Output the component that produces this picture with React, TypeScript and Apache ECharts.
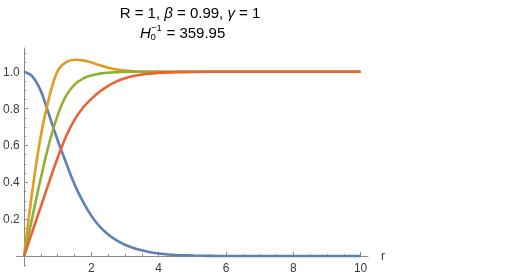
import React, { useEffect, useRef } from "react";
import * as echarts from "echarts";

const rValues = [0, 0.25, 0.5, 0.75, 1, 1.25, 1.5, 1.75, 2, 2.25, 2.5, 2.75, 3, 3.25, 3.5, 3.75, 4, 4.5, 5, 5.5, 6, 7, 8, 9, 10];
const blueValues = [1.0, 0.974, 0.895, 0.762, 0.627, 0.505, 0.389, 0.295, 0.218, 0.16, 0.117, 0.085, 0.061, 0.044, 0.031, 0.021, 0.014, 0.006, 0.003, 0.001, 0, 0, 0, 0, 0];
const orangeValues = [0, 0.36, 0.655, 0.865, 1.005, 1.052, 1.065, 1.062, 1.05, 1.035, 1.022, 1.012, 1.006, 1.003, 1.001, 1.0, 1, 1, 1, 1, 1, 1, 1, 1, 1];
const greenValues = [0, 0.215, 0.425, 0.615, 0.765, 0.87, 0.93, 0.963, 0.98, 0.99, 0.995, 0.998, 0.999, 1, 1, 1, 1, 1, 1, 1, 1, 1, 1, 1, 1];
const redValues = [0, 0.135, 0.27, 0.405, 0.535, 0.65, 0.74, 0.805, 0.853, 0.893, 0.924, 0.948, 0.965, 0.977, 0.985, 0.99, 0.994, 0.997, 0.999, 1, 1, 1, 1, 1, 1];

const xMajorTicks = [2, 4, 6, 8, 10];
const xMinorTicks = [0.5, 1, 1.5, 2.5, 3, 3.5, 4.5, 5, 5.5, 6.5, 7, 7.5, 8.5, 9, 9.5];
const yMajorTicks = [0.2, 0.4, 0.6, 0.8, 1.0];
const yMinorTicks = [-0.05, 0.05, 0.1, 0.15, 0.25, 0.3, 0.35, 0.45, 0.5, 0.55, 0.65, 0.7, 0.75, 0.85, 0.9, 0.95, 1.05, 1.1];

const seriesColors = ["#5E81B5", "#E19C24", "#8FB032", "#EB6235"];
const seriesValues = [blueValues, orangeValues, greenValues, redValues];

const FONT = "'Liberation Sans', Arial, sans-serif";
const AXIS_COLOR = "#8a8a8a";
const LABEL_COLOR = "#3a3a3a";

export default function App() {
  const ref = useRef<HTMLDivElement>(null);
  useEffect(() => {
    if (!ref.current) return;
    const chart = echarts.init(ref.current, undefined, { renderer: "svg" });
    const xRange = { min: -0.22, max: 10.22 };
    const yRange = { min: -0.054, max: 1.129 };
    chart.setOption({
      animation: false,
      grid: { left: 15, right: 155, top: 48, bottom: 11, containLabel: false },
      xAxis: [
        {
          type: "value",
          ...xRange,
          name: "r",
          nameLocation: "end",
          nameGap: 13,
          nameTextStyle: { fontFamily: FONT, fontSize: 12, color: LABEL_COLOR },
          axisLine: { show: true, onZero: true, lineStyle: { color: AXIS_COLOR, width: 1 } },
          axisTick: { show: true, inside: true, length: 4, customValues: xMajorTicks, lineStyle: { color: AXIS_COLOR } },
          axisLabel: { show: true, customValues: xMajorTicks, margin: -4, fontFamily: FONT, fontSize: 12, color: LABEL_COLOR, formatter: (v: number) => String(v) },
          splitLine: { show: false },
        },
        {
          type: "value",
          ...xRange,
          position: "top",
          axisLine: { show: true, onZero: true, onZeroAxisIndex: 0, lineStyle: { color: "rgba(0,0,0,0)" } },
          axisTick: { show: true, inside: false, length: 2, customValues: xMinorTicks, lineStyle: { color: AXIS_COLOR } },
          axisLabel: { show: false },
          splitLine: { show: false },
        },
      ],
      yAxis: [
        {
          type: "value",
          ...yRange,
          axisLine: { show: true, onZero: true, lineStyle: { color: AXIS_COLOR, width: 1 } },
          axisTick: { show: true, inside: true, length: 4, customValues: yMajorTicks, lineStyle: { color: AXIS_COLOR } },
          axisLabel: { show: true, customValues: yMajorTicks, margin: -3, fontFamily: FONT, fontSize: 12, color: LABEL_COLOR, formatter: (v: number) => v.toFixed(1) },
          splitLine: { show: false },
        },
        {
          type: "value",
          ...yRange,
          position: "right",
          axisLine: { show: true, onZero: true, onZeroAxisIndex: 0, lineStyle: { color: "rgba(0,0,0,0)" } },
          axisTick: { show: true, inside: false, length: 2, customValues: yMinorTicks, lineStyle: { color: AXIS_COLOR } },
          axisLabel: { show: false },
          splitLine: { show: false },
        },
      ],
      series: seriesValues.map((vals, i) => ({
        type: "line",
        xAxisIndex: 0,
        yAxisIndex: 0,
        data: rValues.map((r, j) => [r, vals[j]]),
        showSymbol: false,
        smooth: 0.35,
        clip: false,
        lineStyle: { color: seriesColors[i], width: 2.6 },
        itemStyle: { color: seriesColors[i] },
        z: 2 + i,
      })),
      graphic: [
        {
          type: "text",
          x: 190,
          y: 12,
          style: {
            text: "{n|R = 1, }{i|β}{n| = 0.99, }{i|γ}{n| = 1}",
            rich: {
              n: { fontFamily: FONT, fontSize: 15, fill: "#000" },
              i: { fontFamily: FONT, fontSize: 15, fontStyle: "italic", fill: "#000" },
            },
            textAlign: "center",
            textVerticalAlign: "middle",
          },
        },
        {
          type: "text",
          x: 140,
          y: 32,
          style: { text: "H", fontFamily: FONT, fontSize: 15, fontStyle: "italic", fill: "#000", textAlign: "left", textVerticalAlign: "middle" },
        },
        {
          type: "text",
          x: 150.5,
          y: 36.8,
          style: { text: "0", fontFamily: FONT, fontSize: 9.5, fill: "#000", textAlign: "left", textVerticalAlign: "middle" },
        },
        {
          type: "text",
          x: 151,
          y: 27.2,
          style: { text: "−1", fontFamily: FONT, fontSize: 9.5, fill: "#000", textAlign: "left", textVerticalAlign: "middle" },
        },
        {
          type: "text",
          x: 166.5,
          y: 32,
          style: { text: "= 359.95", fontFamily: FONT, fontSize: 15, fill: "#000", textAlign: "left", textVerticalAlign: "middle" },
        },
      ],
    });
    return () => chart.dispose();
  }, []);
  return <div ref={ref} style={{ position: "fixed", left: 0, top: 0, width: 523, height: 277 }} />;
}
